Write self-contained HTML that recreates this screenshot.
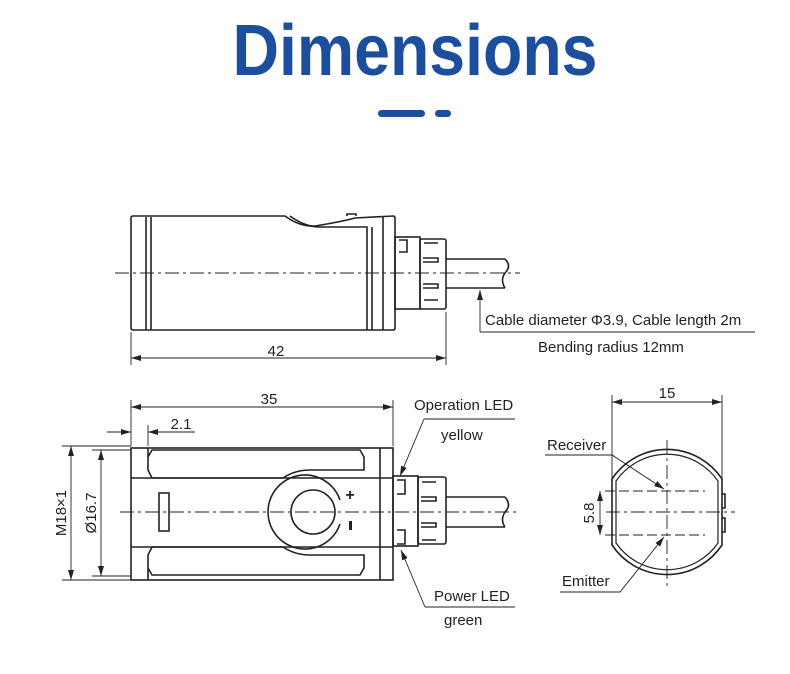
<!DOCTYPE html>
<html><head><meta charset="utf-8"><style>
html,body{margin:0;padding:0;background:#fff;}
svg{display:block;}
text{font-family:"Liberation Sans",sans-serif;}
</style></head><body>
<svg width="790" height="674" viewBox="0 0 790 674" xmlns="http://www.w3.org/2000/svg">
<defs>
<marker id="a" markerWidth="10" markerHeight="6" refX="10" refY="3" orient="auto-start-reverse" markerUnits="userSpaceOnUse"><path d="M0,0 L10,3 L0,6 z" fill="#222"/></marker>
</defs>
<text x="415" y="75" text-anchor="middle" font-size="72" font-weight="bold" fill="#1b4f9e" textLength="365" lengthAdjust="spacingAndGlyphs">Dimensions</text>
<rect x="378" y="110" width="47" height="7" rx="3.5" fill="#1b4f9e"/>
<rect x="435" y="110" width="16" height="7" rx="3.5" fill="#1b4f9e"/>

<g fill="none" stroke="#222" stroke-width="1.6">
<!-- TOP VIEW -->
<path d="M133,216 H285 Q300,227 315,226 Q340,222 355,218 L393,216 Q395,216 395,218 V328 Q395,330 393,330 H133 Q131,330 131,328 V218 Q131,216 133,216 Z"/>
<line x1="146" y1="217" x2="146" y2="330"/><line x1="151" y1="217" x2="151" y2="330"/>
<path d="M290,216 Q305,227 320,227 H367 V330"/><line x1="372" y1="227" x2="372" y2="330"/>
<line x1="383" y1="217" x2="383" y2="330"/>
<path d="M347,216 V214 H356 V216"/>
<rect x="395" y="237" width="25" height="72"/>
<rect x="420" y="239" width="26" height="70" rx="2"/>
<path d="M399,240 h8 v12 h-8 M424,243 h14 M424,300 h14 M423,258 h15 v4 h-15 M423,284 h15 v4 h-15"/>
<path d="M446,259 H505 M446,288 H505 M505,259 Q512,266 505,273 Q500,280 505,288"/>
<!-- SIDE VIEW -->
<rect x="131" y="448" width="262" height="132"/>
<path d="M148,448 V457 L152,450 H360 L364,457 V470 H310 Q295,470 283,478 H152 L148,470 V448"/>
<path d="M148,580 V568 L152,575 H360 L364,568 V555 H310 Q295,555 283,547 H152 L148,555 V580"/>
<line x1="131" y1="478" x2="393" y2="478"/><line x1="131" y1="547" x2="393" y2="547"/>
<line x1="380" y1="448" x2="380" y2="580"/>
<path d="M340,500 A37,37 0 1 0 340,524"/>
<circle cx="313" cy="512" r="22"/>
<rect x="159" y="493" width="10" height="38"/>
<rect x="393" y="476" width="25" height="70"/>
<rect x="418" y="477" width="28" height="67" rx="2"/>
<path d="M397,480 h8 v14 h-8 M397,530 h8 v14 h-8 M422,482 h14 M422,540 h14 M421,497 h15 v4 h-15 M421,523 h15 v4 h-15"/>
<path d="M446,497 H505 M446,527 H505 M505,497 Q512,505 505,512 Q500,520 505,527"/>
<!-- FRONT VIEW -->
<path d="M612,479 A66,66 0 0 1 722,479 V545 A66,66 0 0 1 612,545 Z"/>
<path d="M616,481 A62,62 0 0 1 718,481 V543 A62,62 0 0 1 616,543 Z" stroke-width="1.2"/>
<path d="M722,494 h3 v14 h-3 M722,518 h3 v14 h-3"/>
</g>
<g stroke="#222" stroke-width="0.9" fill="none">
<line x1="115" y1="273" x2="520" y2="273" stroke-dasharray="14,4,3,4"/>
<line x1="120" y1="512" x2="520" y2="512" stroke-dasharray="14,4,3,4"/>
<line x1="606" y1="512" x2="735" y2="512" stroke-dasharray="14,4,3,4"/>
<line x1="667" y1="440" x2="667" y2="590" stroke-dasharray="14,4,3,4"/>
<line x1="605" y1="491" x2="705" y2="491" stroke-dasharray="10,4"/>
<line x1="605" y1="535" x2="705" y2="535" stroke-dasharray="10,4"/>
<line x1="131" y1="332" x2="131" y2="365"/><line x1="446" y1="312" x2="446" y2="365"/>
<line x1="131" y1="358" x2="446" y2="358" marker-start="url(#a)" marker-end="url(#a)"/>
<line x1="480" y1="332" x2="480" y2="290" marker-end="url(#a)"/>
<line x1="480" y1="332" x2="755" y2="332"/>
<line x1="131" y1="400" x2="131" y2="446"/><line x1="393" y1="400" x2="393" y2="446"/>
<line x1="131" y1="407" x2="393" y2="407" marker-start="url(#a)" marker-end="url(#a)"/>
<line x1="148" y1="425" x2="148" y2="446"/>
<line x1="107" y1="432" x2="131" y2="432" marker-end="url(#a)"/>
<line x1="172" y1="432" x2="148" y2="432" marker-end="url(#a)"/>
<line x1="148" y1="432" x2="195" y2="432"/>
<line x1="62" y1="446" x2="131" y2="446"/><line x1="62" y1="580" x2="131" y2="580"/>
<line x1="71" y1="446" x2="71" y2="580" marker-start="url(#a)" marker-end="url(#a)"/>
<line x1="92" y1="450" x2="131" y2="450"/><line x1="92" y1="576" x2="131" y2="576"/>
<line x1="101" y1="450" x2="101" y2="576" marker-start="url(#a)" marker-end="url(#a)"/>
<line x1="515" y1="419" x2="424" y2="419"/>
<line x1="424" y1="419" x2="400" y2="476" marker-end="url(#a)"/>
<line x1="515" y1="607" x2="425" y2="607"/>
<line x1="425" y1="607" x2="401" y2="550" marker-end="url(#a)"/>
<line x1="612" y1="395" x2="612" y2="479"/><line x1="722" y1="395" x2="722" y2="479"/>
<line x1="612" y1="402" x2="722" y2="402" marker-start="url(#a)" marker-end="url(#a)"/>
<line x1="600" y1="491" x2="600" y2="535" marker-start="url(#a)" marker-end="url(#a)"/>
<path d="M545,455 H612 L664,489" marker-end="url(#a)"/>
<path d="M560,592 H620 L664,537" marker-end="url(#a)"/>
</g>
<g font-size="15" fill="#222">
<text x="276" y="356" text-anchor="middle">42</text>
<text x="485" y="325">Cable diameter Φ3.9, Cable length 2m</text>
<text x="538" y="352">Bending radius 12mm</text>
<text x="269" y="404" text-anchor="middle">35</text>
<text x="181" y="429" text-anchor="middle">2.1</text>
<text x="414" y="410">Operation LED</text>
<text x="441" y="440">yellow</text>
<text x="434" y="601">Power LED</text>
<text x="444" y="625">green</text>
<text x="667" y="398" text-anchor="middle">15</text>
<text x="547" y="450">Receiver</text>
<text x="562" y="586">Emitter</text>
<text transform="translate(66,513) rotate(-90)" text-anchor="middle">M18×1</text>
<text transform="translate(96,513) rotate(-90)" text-anchor="middle">Ø16.7</text>
<text transform="translate(594,513) rotate(-90)" text-anchor="middle">5.8</text>
</g>
<text x="350" y="500" font-size="16" font-weight="bold" fill="#222" text-anchor="middle">+</text>
<rect x="349" y="521" width="3" height="9" fill="#222"/>
</svg>
</body></html>
